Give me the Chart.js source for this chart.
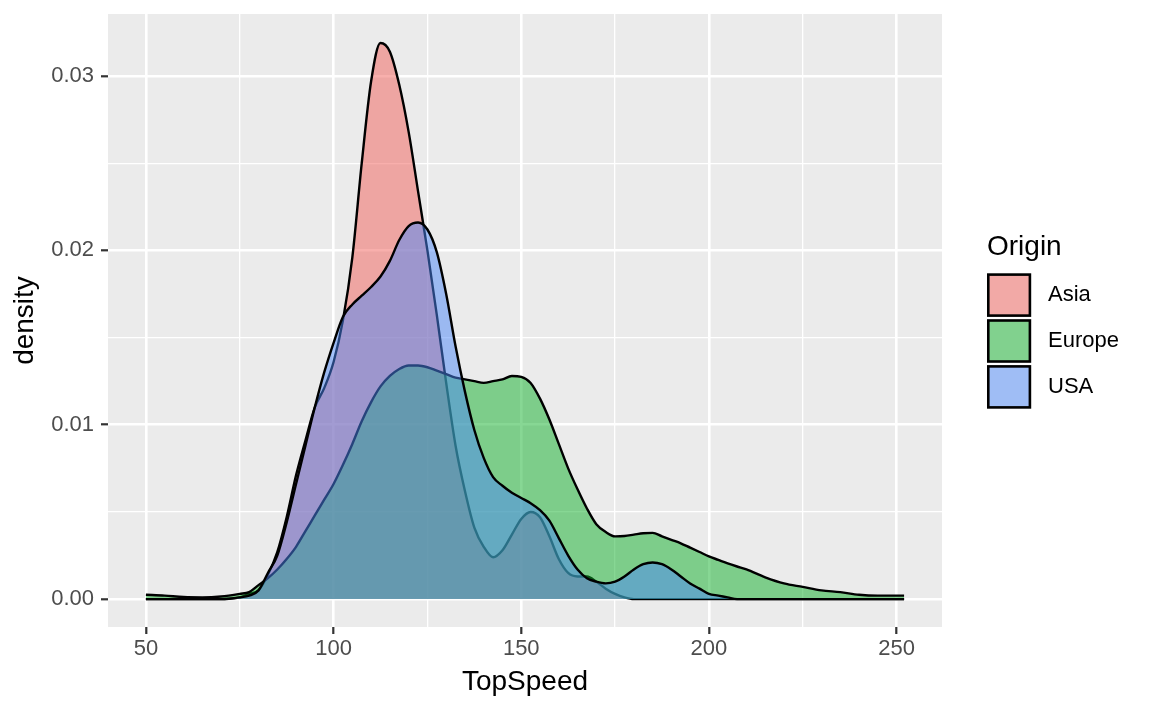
<!DOCTYPE html>
<html>
<head>
<meta charset="utf-8">
<script src="https://cdn.jsdelivr.net/npm/chart.js@4.4.0/dist/chart.umd.min.js"></script>
<style>
html,body{margin:0;padding:0;background:#fff;}
canvas{display:block;}
</style>
</head>
<body>
<canvas id="c" width="1152" height="711"></canvas>
<script>
// ---- data ----
const topSpeed = [50,55,60,65,70,
  75,77.5,80,82.5,85,87.5,90,92.5,95,97.5,
  100,102.5,105,107.5,110,112.5,115,117.5,120,122.5,
  125,127.5,130,132.5,135,137.5,140,142.5,145,147.5,
  150,152.5,155,157.5,160,162.5,165,167.5,170,172.5,
  175,177.5,180,182.5,185,187.5,190,192.5,195,197.5,
  200,202.5,205,207.5,210,
  215,220,225,230,235,240,245,250,252];

const asia = [0,0,0,0,0,
  0.0001,0.0003,0.0005,0.0014,0.0027,0.0047,0.0071,0.0091,0.0110,0.0121,
  0.0136,0.0160,0.0196,0.0250,0.0297,0.0319,0.0314,0.0295,0.0268,0.0234,
  0.0200,0.0163,0.0124,0.0088,0.0062,0.0041,0.0030,0.0024,0.0028,0.0037,
  0.0046,0.0050,0.0047,0.0036,0.0023,0.0015,0.0013,0.0013,0.0010,0.0006,
  0.0003,0.0001,0,0,0,0,0,0,0,0,
  0,0,0,0,0,
  0,0,0,0,0,0,0,0,0];

const europe = [0.00025,0.0002,0.00012,0.0001,0.00015,
  0.0003,0.0004,0.0008,0.0012,0.0017,0.0023,0.0030,0.0039,0.0048,0.0057,
  0.0066,0.0077,0.0089,0.0102,0.0113,0.0122,0.0128,0.0132,0.0134,0.0134,
  0.0133,0.0131,0.0129,0.0127,0.0126,0.0125,0.0124,0.0125,0.0126,0.0128,
  0.01275,0.0124,0.0115,0.0103,0.0089,0.0075,0.0063,0.0052,0.0043,0.00385,
  0.0036,0.00362,0.0037,0.00378,0.0038,0.0036,0.0034,0.0032,0.00295,0.0027,
  0.00245,0.00225,0.00205,0.00187,0.0017,
  0.00125,0.0009,0.0007,0.0005,0.0004,0.00025,0.0002,0.0002,0.0002];

const usa = [0,0,0,0,0,
  0.0001,0.0002,0.0005,0.0015,0.0025,0.0044,0.0066,0.0088,0.0110,0.0130,
  0.0147,0.0162,0.0169,0.0174,0.0179,0.0185,0.0194,0.0206,0.0214,0.0216,
  0.0212,0.0199,0.0175,0.0145,0.0119,0.0097,0.0081,0.0070,0.0065,0.0061,
  0.0058,0.0055,0.0051,0.0045,0.0035,0.0025,0.0017,0.0012,0.0010,0.0009,
  0.0010,0.0013,0.0017,0.0020,0.0021,0.0020,0.0017,0.0013,0.0009,0.0006,
  0.0003,0.0002,0.0001,0,0,
  0,0,0,0,0,0,0,0,0];

const seriesNames = ['Asia', 'Europe', 'USA'];
const legendTitle = 'Origin';
const xTitle = 'TopSpeed';
const yTitle = 'density';
const xTickValues = [50,75,100,125,150,175,200,225,250];
const xMajorTicks = [50,100,150,200,250];
const yTickValues = [0,0.005,0.01,0.015,0.02,0.025,0.03];
const yMajorTicks = [0,0.01,0.02,0.03];

// ---- styling ----
const FONT = '"Liberation Sans", Arial, Helvetica, sans-serif';
const fills = ['rgba(242,96,89,0.5)', 'rgba(16,176,42,0.5)', 'rgba(76,136,248,0.5)'];
const isIn = (v, arr) => arr.some(a => Math.abs(a - v) < 1e-9);

const seriesValues = [asia, europe, usa];
const datasets = seriesNames.map((name, i) => ({
  label: name,
  data: topSpeed.map((x, j) => ({ x: x, y: seriesValues[i][j] })),
  backgroundColor: fills[i],
  borderColor: '#000',
  borderWidth: 2.4,
  pointRadius: 0,
  pointHoverRadius: 0,
  fill: 'origin',
  cubicInterpolationMode: 'monotone',
  order: 3 - i
}));

const panelBg = {
  id: 'panelBg',
  beforeDraw(chart) {
    const { ctx, chartArea: a } = chart;
    ctx.save();
    ctx.fillStyle = '#EBEBEB';
    ctx.fillRect(a.left, a.top, a.right - a.left, a.bottom - a.top);
    ctx.restore();
  }
};

const ggLegend = {
  id: 'ggLegend',
  afterDraw(chart) {
    const ctx = chart.ctx;
    ctx.save();
    ctx.fillStyle = '#000';
    ctx.textAlign = 'left';
    ctx.textBaseline = 'alphabetic';
    ctx.font = '28px ' + FONT;
    ctx.fillText(legendTitle, 987, 255);
    chart.data.datasets.forEach((ds, i) => {
      const x = 988.3, y = 274.6 + i * 45.9, w = 41.6, h = 41;
      ctx.fillStyle = '#F2F2F2';
      ctx.fillRect(x - 1.3, y - 1.3, w + 2.6, h + 2.6);
      ctx.fillStyle = ds.backgroundColor;
      ctx.fillRect(x, y, w, h);
      ctx.lineWidth = 2.6;
      ctx.strokeStyle = '#000';
      ctx.strokeRect(x, y, w, h);
      ctx.fillStyle = '#000';
      ctx.font = '22px ' + FONT;
      ctx.textBaseline = 'middle';
      ctx.fillText(ds.label, 1048, y + h / 2);
    });
    ctx.restore();
  }
};

new Chart(document.getElementById('c'), {
  type: 'line',
  data: { datasets: datasets },
  plugins: [panelBg, ggLegend],
  options: {
    responsive: false,
    animation: false,
    devicePixelRatio: 1,
    layout: { padding: { left: 0, top: 14, right: 210, bottom: 0 } },
    plugins: {
      legend: { display: false },
      tooltip: { enabled: false },
      filler: { drawTime: 'beforeDatasetDraw' }
    },
    scales: {
      x: {
        type: 'linear',
        min: 39.9,
        max: 262.1,
        afterBuildTicks: s => { s.ticks = xTickValues.map(v => ({ value: v })); },
        afterFit: s => { s.height = 84; s.paddingLeft = 0; s.paddingRight = 0; },
        border: { display: false },
        grid: {
          color: '#FFFFFF',
          lineWidth: c => isIn(c.tick.value, xMajorTicks) ? 2.6 : 1.3,
          drawTicks: true,
          tickLength: 7,
          tickWidth: 2.2,
          tickColor: c => isIn(c.tick.value, xMajorTicks) ? '#333333' : 'rgba(0,0,0,0)'
        },
        ticks: {
          autoSkip: false,
          maxRotation: 0,
          padding: 1.5,
          color: '#4D4D4D',
          font: { family: FONT, size: 22 },
          callback: v => isIn(v, xMajorTicks) ? String(v) : ''
        },
        title: {
          display: true,
          text: xTitle,
          color: '#000',
          font: { family: FONT, size: 28 },
          padding: { top: 0, bottom: 12 }
        }
      },
      y: {
        type: 'linear',
        min: -0.0016,
        max: 0.03356,
        afterBuildTicks: s => { s.ticks = yTickValues.map(v => ({ value: v })); },
        afterFit: s => { s.width = 108; s.paddingTop = 0; s.paddingBottom = 0; },
        border: { display: false },
        grid: {
          color: '#FFFFFF',
          lineWidth: c => isIn(c.tick.value, yMajorTicks) ? 2.6 : 1.3,
          drawTicks: true,
          tickLength: 7,
          tickWidth: 2.2,
          tickColor: c => isIn(c.tick.value, yMajorTicks) ? '#333333' : 'rgba(0,0,0,0)'
        },
        ticks: {
          autoSkip: false,
          padding: 7,
          color: '#4D4D4D',
          font: { family: FONT, size: 22 },
          callback: v => isIn(v, yMajorTicks) ? v.toFixed(2) : ''
        },
        title: {
          display: true,
          text: yTitle,
          color: '#000',
          font: { family: FONT, size: 28 },
          padding: { top: 8, bottom: 0 }
        }
      }
    }
  }
});
</script>
</body>
</html>
